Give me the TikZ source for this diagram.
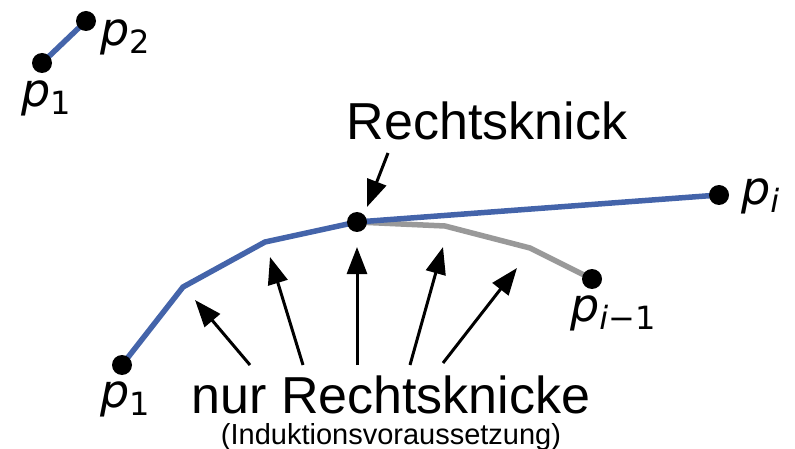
\documentclass[tikz,border=0pt]{standalone}
\usepackage{fontspec}
\setmainfont{Liberation Sans}
\newfontfamily\labfont{DejaVu Sans}
\usetikzlibrary{arrows.meta}
\definecolor{polyblue}{HTML}{4464AA}
\definecolor{polygray}{HTML}{999999}
\newcommand{\plab}[1]{{\labfont\fontsize{46}{46}\selectfont\itshape p}\raisebox{-8pt}{\labfont\fontsize{32}{32}\selectfont #1}}
\begin{document}
\begin{tikzpicture}[x=1pt,y=-1pt,
  dot/.style={circle,fill=black,inner sep=0pt,minimum size=20pt},
  hull/.style={line width=5.5pt,line join=round,polyblue},
  oldhull/.style={line width=5.5pt,line join=round,polygray},
  pointer/.style={line width=3pt,-{Triangle[length=27pt,width=20pt]}},
  lab/.style={inner sep=0pt,anchor=base west},
  bigtext/.style={inner sep=0pt,anchor=base,font=\fontsize{52}{52}\selectfont},
  smalltext/.style={inner sep=0pt,anchor=base,font=\fontsize{29}{29}\selectfont}]
\useasboundingbox (0,0) rectangle (795,449);
% small example
\coordinate (a1) at (42,63);
\coordinate (a2) at (86,21);
% main chain
\coordinate (b1) at (122,365);
\coordinate (b2) at (183,287);
\coordinate (b3) at (265,242);
\coordinate (rk) at (357,222);
\coordinate (pi) at (719,195);
\coordinate (g1) at (445,226);
\coordinate (g2) at (530,248);
\coordinate (pim) at (592,279);
% lines
\draw[hull] (a1) -- (a2);
\draw[oldhull] (rk) -- (g1) -- (g2) -- (pim);
\draw[hull] (b1) -- (b2) -- (b3) -- (rk) -- (pi);
% dots
\node[dot] (d1) at (a1) {};
\node[dot] (d2) at (a2) {};
\node[dot] (d3) at (b1) {};
\node[dot] (d4) at (rk) {};
\node[dot] (d5) at (pi) {};
\node[dot] (d6) at (pim) {};
% point labels
\node[lab] (l2) at (100,46) {\plab{2}};
\node[lab] (l1) at (21,107) {\plab{1}};
\node[lab] (l1b) at (100,407) {\plab{1}};
\node[lab] (li) at (741,205) {\plab{\itshape i}};
\node[lab] (lim) at (570,321) {\plab{{\itshape i}−1}};
% texts
\node[bigtext] (rtext) at (487,140) {Rechtsknick};
\node[bigtext] (ntext) at (391,413) {nur Rechtsknicke};
\node[smalltext] (itext) at (391,444) {(Induktionsvoraussetzung)};
% arrows
\coordinate (rt) at (388,153);
\coordinate (rh) at (367,207);
\draw[pointer] (rt) -- (rh);
\coordinate (t1) at (250,365); \coordinate (h1) at (195,300);
\coordinate (t2) at (303,365); \coordinate (h2) at (270,257);
\coordinate (t3) at (357,365); \coordinate (h3) at (357,247);
\coordinate (t4) at (410,365); \coordinate (h4) at (443,247);
\coordinate (t5) at (443,363); \coordinate (h5) at (517,268);
\draw[pointer] (t1) -- (h1);
\draw[pointer] (t2) -- (h2);
\draw[pointer] (t3) -- (h3);
\draw[pointer] (t4) -- (h4);
\draw[pointer] (t5) -- (h5);
\end{tikzpicture}
\end{document}
